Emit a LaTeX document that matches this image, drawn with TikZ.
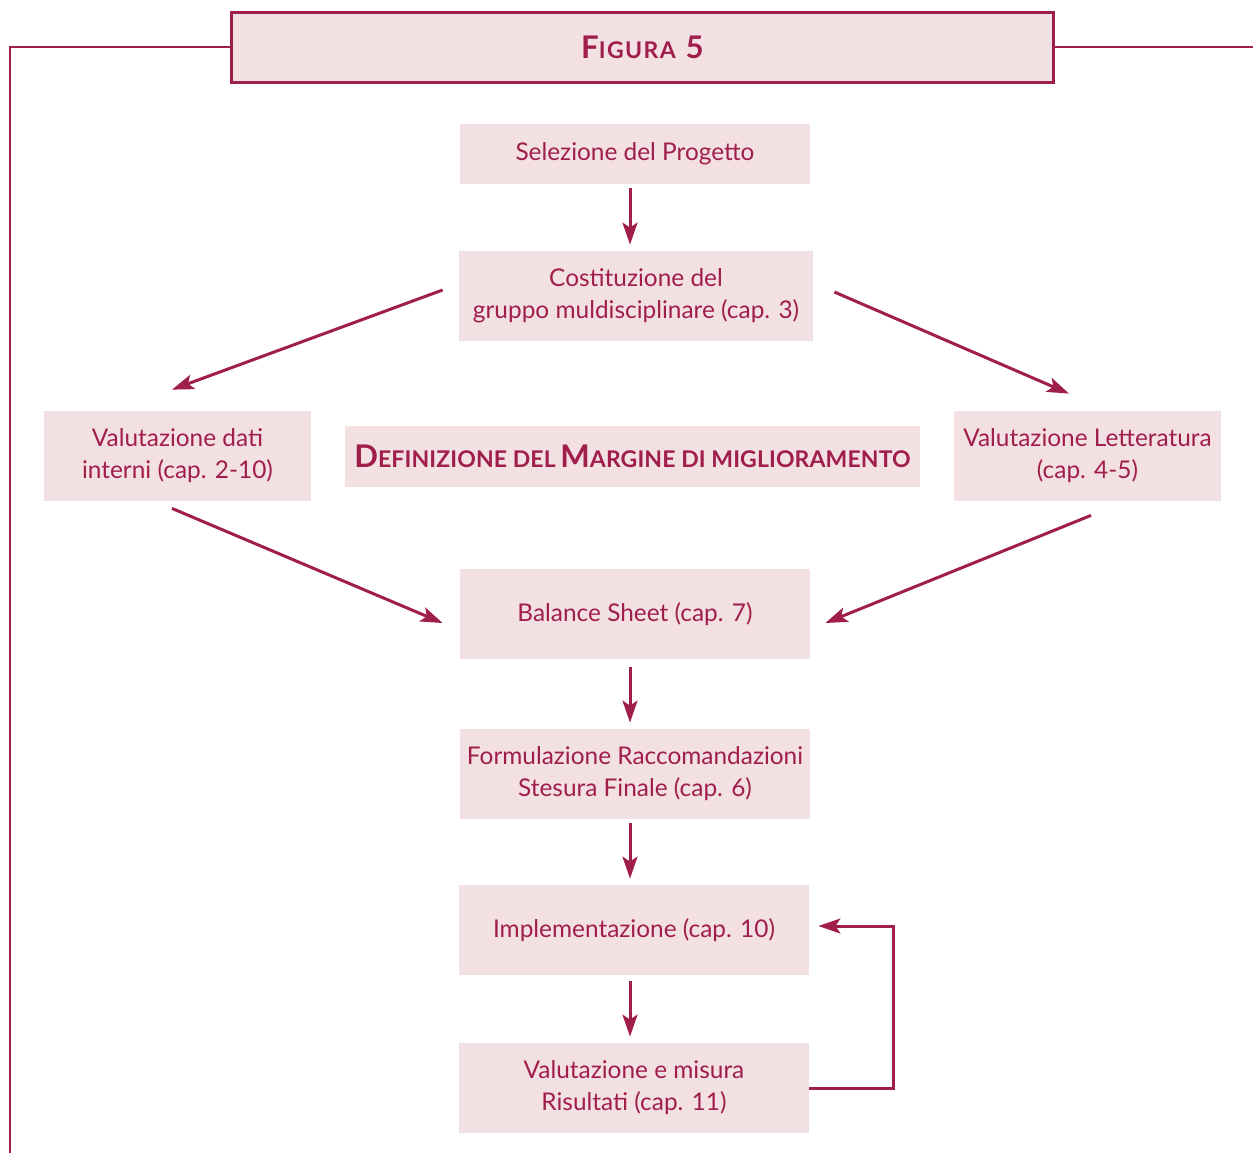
\documentclass[tikz,border=0pt]{standalone}
\usepackage{fontspec}
\setmainfont{Lato}
\usetikzlibrary{arrows.meta}
\definecolor{bordeaux}{RGB}{160,30,75}
\definecolor{rosa}{RGB}{243,224,226}
% finto maiuscoletto
\newcommand{\maiusc}[3][0]{{\fontsize{15.6}{18}\selectfont #2}{\fontsize{11.5}{13}\selectfont\addfontfeature{LetterSpace=#1}#3}}
\begin{document}
\begin{tikzpicture}[x=0.5pt,y=-0.5pt,
    box/.style={fill=rosa, text=bordeaux, inner sep=0pt, align=center,
      minimum width=175pt, minimum height=45pt, font=\fontsize{12.2}{16}\selectfont},
    frame/.style={draw=bordeaux, line width=1pt},
    flow/.style={draw=bordeaux, line width=1.5pt,
      -{Stealth[length=11pt,width=7.5pt,inset=2.5pt]}}]
    \useasboundingbox (0,0) rectangle (1253,1153);
    % titolo e cornice
    \node[box, draw=bordeaux, line width=1.5pt, minimum width=411pt, minimum height=35pt,
      font=\bfseries] (titolo) at (642.5,47) {\maiusc[6]{F}{IGURA}\hspace{5pt}{\fontsize{15.6}{18}\selectfont 5}};
    \coordinate (angolo) at (10,47);
    \coordinate (fondo) at (10,1153);
    \coordinate (destra) at (1253,47);
    \draw[frame] (titolo.west) -- (angolo) -- (fondo);
    \draw[frame] (titolo.east) -- (destra);
    % blocchi
    \node[box, minimum height=30pt] (sel) at (635,154) {Selezione del Progetto};
    \node[box, minimum width=177pt] (cost) at (636,296) {Costituzione del\\gruppo muldisciplinare (cap. 3)};
    \node[box, minimum width=133.5pt] (vdati) at (177.5,456) {Valutazione dati\\interni (cap. 2-10)};
    \node[box, minimum width=287.5pt, minimum height=30.5pt, font=\bfseries] (defin) at (632.5,456.5)
      {\maiusc[0.5]{D}{EFINIZIONE DEL} \maiusc[0.5]{M}{ARGINE DI MIGLIORAMENTO}};
    \node[box, minimum width=133.5pt] (vlett) at (1087.5,456) {Valutazione Letteratura\\(cap. 4-5)};
    \node[box] (bal) at (635,614) {Balance Sheet (cap. 7)};
    \node[box] (form) at (635,774) {Formulazione Raccomandazioni\\Stesura Finale (cap. 6)};
    \node[box] (impl) at (634,930) {Implementazione (cap. 10)};
    \node[box] (mis) at (634,1088) {Valutazione e misura\\Risultati (cap. 11)};
    % frecce
    \draw[flow] ([shift={(-2.5pt,-2pt)}]sel.south) -- ([shift={(-2.5pt,3pt)}]sel.south |- cost.north);
    \draw[flow] ([shift={(-8pt,3pt)}]cost.west) -- ([shift={(-2.75pt,10.5pt)}]vdati.north);
    \draw[flow] ([shift={(10.5pt,2pt)}]cost.east) -- ([shift={(-9.25pt,8.5pt)}]vlett.north);
    \draw[flow] ([shift={(-2.75pt,-3.5pt)}]vdati.south) -- ([shift={(-8.5pt,-4.5pt)}]bal.west);
    \draw[flow] ([shift={(1.75pt,-7pt)}]vlett.south) -- ([shift={(7.5pt,-4.5pt)}]bal.east);
    \draw[flow] ([shift={(-2.5pt,-4pt)}]bal.south) -- ([shift={(-2.5pt,3pt)}]bal.south |- form.north);
    \draw[flow] ([shift={(-2.5pt,-2pt)}]form.south) -- ([shift={(-2.5pt,3pt)}]form.south |- impl.north);
    \draw[flow] ([shift={(-2pt,-3pt)}]impl.south) -- ([shift={(-2pt,3pt)}]impl.south |- mis.north);
    \draw[flow, shorten >=4.5pt] (mis.east) -- ++(84,0) |- ([yshift=2pt]impl.east);
\end{tikzpicture}
\end{document}
